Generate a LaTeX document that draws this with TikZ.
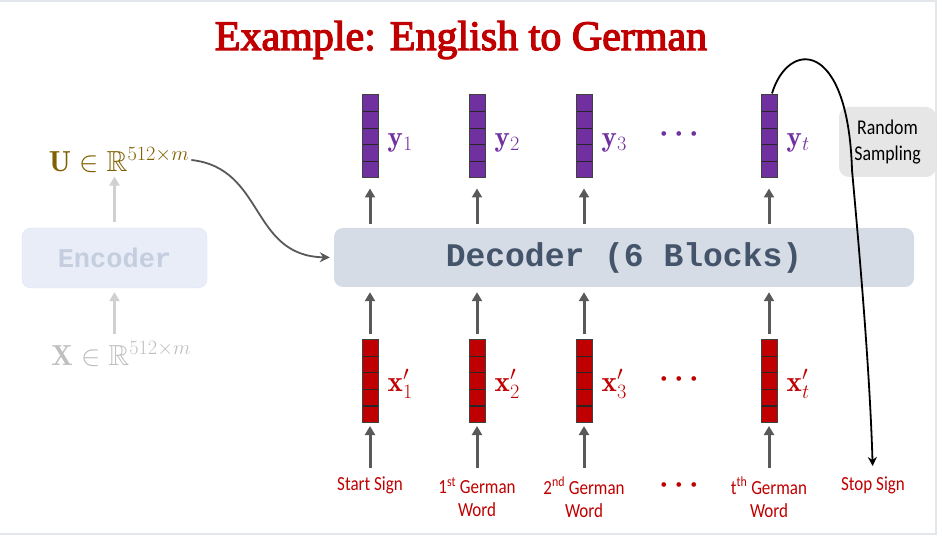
\RequirePackage{fix-cm}
\documentclass[tikz,border=0pt]{standalone}
\usepackage{amsmath,amssymb,bm}
\usepackage{fontspec}
\usetikzlibrary{arrows.meta,calc}
\newfontfamily\titlefont[FakeBold=3]{Liberation Serif}
\newfontfamily\lblfont[FakeStretch=0.85]{Carlito}
\newfontfamily\codefont{Liberation Mono}
\definecolor{cpurple}{HTML}{7030A0}
\definecolor{cred}{HTML}{C00000}
\definecolor{colive}{HTML}{7F6000}
\definecolor{decfill}{HTML}{D6DCE5}
\definecolor{dectext}{HTML}{44546A}
\definecolor{encfill}{HTML}{E9EDF8}
\definecolor{encdraw}{HTML}{DAE3F3}
\definecolor{enctext}{HTML}{C5CEDF}
\definecolor{arrgray}{HTML}{595959}
\definecolor{lightarr}{HTML}{D0D0D0}
\definecolor{rsfill}{HTML}{E7E6E6}
\definecolor{xgray}{HTML}{BFBFBF}
\definecolor{framec}{HTML}{E3E6EA}
\tikzset{
  vecbox/.style={draw=black!75, line width=1pt, minimum width=16pt, minimum height=83pt, inner sep=0pt,
    path picture={\foreach \k in {1,2,3,4}{\draw[black!85,line width=1.2pt]
      ($(path picture bounding box.north west)!\k/5!(path picture bounding box.south west)$) --
      ($(path picture bounding box.north east)!\k/5!(path picture bounding box.south east)$);}}},
  yvec/.style={vecbox, fill=cpurple},
  xvec/.style={vecbox, fill=cred},
  ylab/.style={text=cpurple, anchor=west, inner sep=0pt, font=\fontsize{29}{32}\selectfont},
  xlab/.style={text=cred, anchor=west, inner sep=0pt, font=\fontsize{29}{32}\selectfont},
  wordlab/.style={text=cred, anchor=north, align=center, inner sep=0pt, font=\lblfont\fontsize{20}{23}\selectfont},
  arr/.style={draw=arrgray, line width=3pt, -{Triangle[width=10pt,length=9pt]}},
  larr/.style={draw=lightarr, line width=3pt, -{Triangle[width=10pt,length=9pt]}},
  dots/.style={inner sep=0pt, font=\fontsize{30}{32}\selectfont\boldmath},
}
\begin{document}
\begin{tikzpicture}[x=1pt,y=-1pt]
\useasboundingbox (0,0) rectangle (942,545);
\draw[framec, line width=1.2pt] (0,1) -- (936,1) -- (936,534) -- (0,534);

\node[text=cred, font=\titlefont\fontsize{42}{46}\selectfont] (title) at (461,40) {Example: English to German};

% encoder side
\node[draw=encdraw, fill=encfill, rounded corners=9pt, minimum width=185pt, minimum height=60pt,
  text=enctext, font=\codefont\bfseries\fontsize{27}{30}\selectfont] (enc) at (114.5,258) {Encoder};
\node[text=colive, inner sep=0pt, font=\fontsize{29}{33}\selectfont] (U) at (119,160) {$\mathbf{U}\in\mathbb{R}^{512\times m}$};
\node[text=xgray, inner sep=0pt, font=\fontsize{29}{33}\selectfont] (X) at (121,354) {$\mathbf{X}\in\mathbb{R}^{512\times m}$};
\draw[larr, shorten <=7pt, shorten >=4pt] (X.north -| enc) -- (enc.south);
\draw[larr, shorten <=6pt, shorten >=4pt] (enc.north) -- (U.south -| enc);

% decoder
\node[fill=decfill, rounded corners=9pt, minimum width=580pt, minimum height=59pt,
  text=dectext, font=\codefont\bfseries\fontsize{33}{36}\selectfont] (dec) at (624,257.5) {Decoder (6 Blocks)};
\draw[draw=arrgray, line width=1.8pt, -{Stealth[width=10pt,length=10pt]}, shorten >=4pt]
  ($(U.east)+(2,0)$) .. controls (265,168) and (250,256) .. (dec.west);

% output vectors
\foreach \n/\x/\s in {1/370/1, 2/477/2, 3/584/3, t/769/t}{
  \node[yvec] (y\n) at (\x,136.5) {};
  \node[ylab] (ly\n) at ($(y\n.east)+(9,6)$) {$\mathbf{y}_{\s}$};
  \draw[arr, shorten <=4pt, shorten >=10pt] (dec.north -| y\n) -- (y\n.south);
  \node[xvec] (x\n) at (\x,381) {};
  \node[xlab] (lx\n) at ($(x\n.east)+(9,3)$) {$\mathbf{x}'_{\s}$};
  \draw[arr, shorten <=5pt, shorten >=5pt] (x\n.north) -- (dec.south -| x\n);
}
\node[dots, text=cpurple] (dy) at (682,134) {$\cdots$};
\node[dots, text=cred] (dx) at (682,379) {$\cdots$};

% input words
\node[wordlab] (w1) at (370,477) {Start Sign};
\node[wordlab] (w2) at (477,477) {1\textsuperscript{st} German\\Word};
\node[wordlab] (w3) at (584,477) {2\textsuperscript{nd} German\\Word};
\node[dots, text=cred] (dw) at (682,485) {$\cdots$};
\node[wordlab] (wt) at (769,477) {t\textsuperscript{th} German\\Word};
\node[wordlab] (stop) at (873,477) {Stop Sign};
\foreach \n in {1,2,3,t}{
  \draw[arr, shorten <=9pt, shorten >=3pt] (w\n.north) -- (x\n.south);
}

% random sampling
\node[fill=rsfill, rounded corners=10pt, minimum width=97pt, minimum height=70pt, align=center,
  font=\lblfont\fontsize{21}{26}\selectfont] (rs) at (887.5,142) {Random\\Sampling};
\coordinate (mid) at (852,170);
\draw[black, line width=1.8pt, -{Stealth[width=9pt,length=9pt]}, shorten >=11pt]
  ($(yt.north)+(3,-1)$) .. controls (788,40) and (848,38) .. (mid)
  .. controls (862,280) and (870,380) .. (stop.north);
\end{tikzpicture}
\end{document}
